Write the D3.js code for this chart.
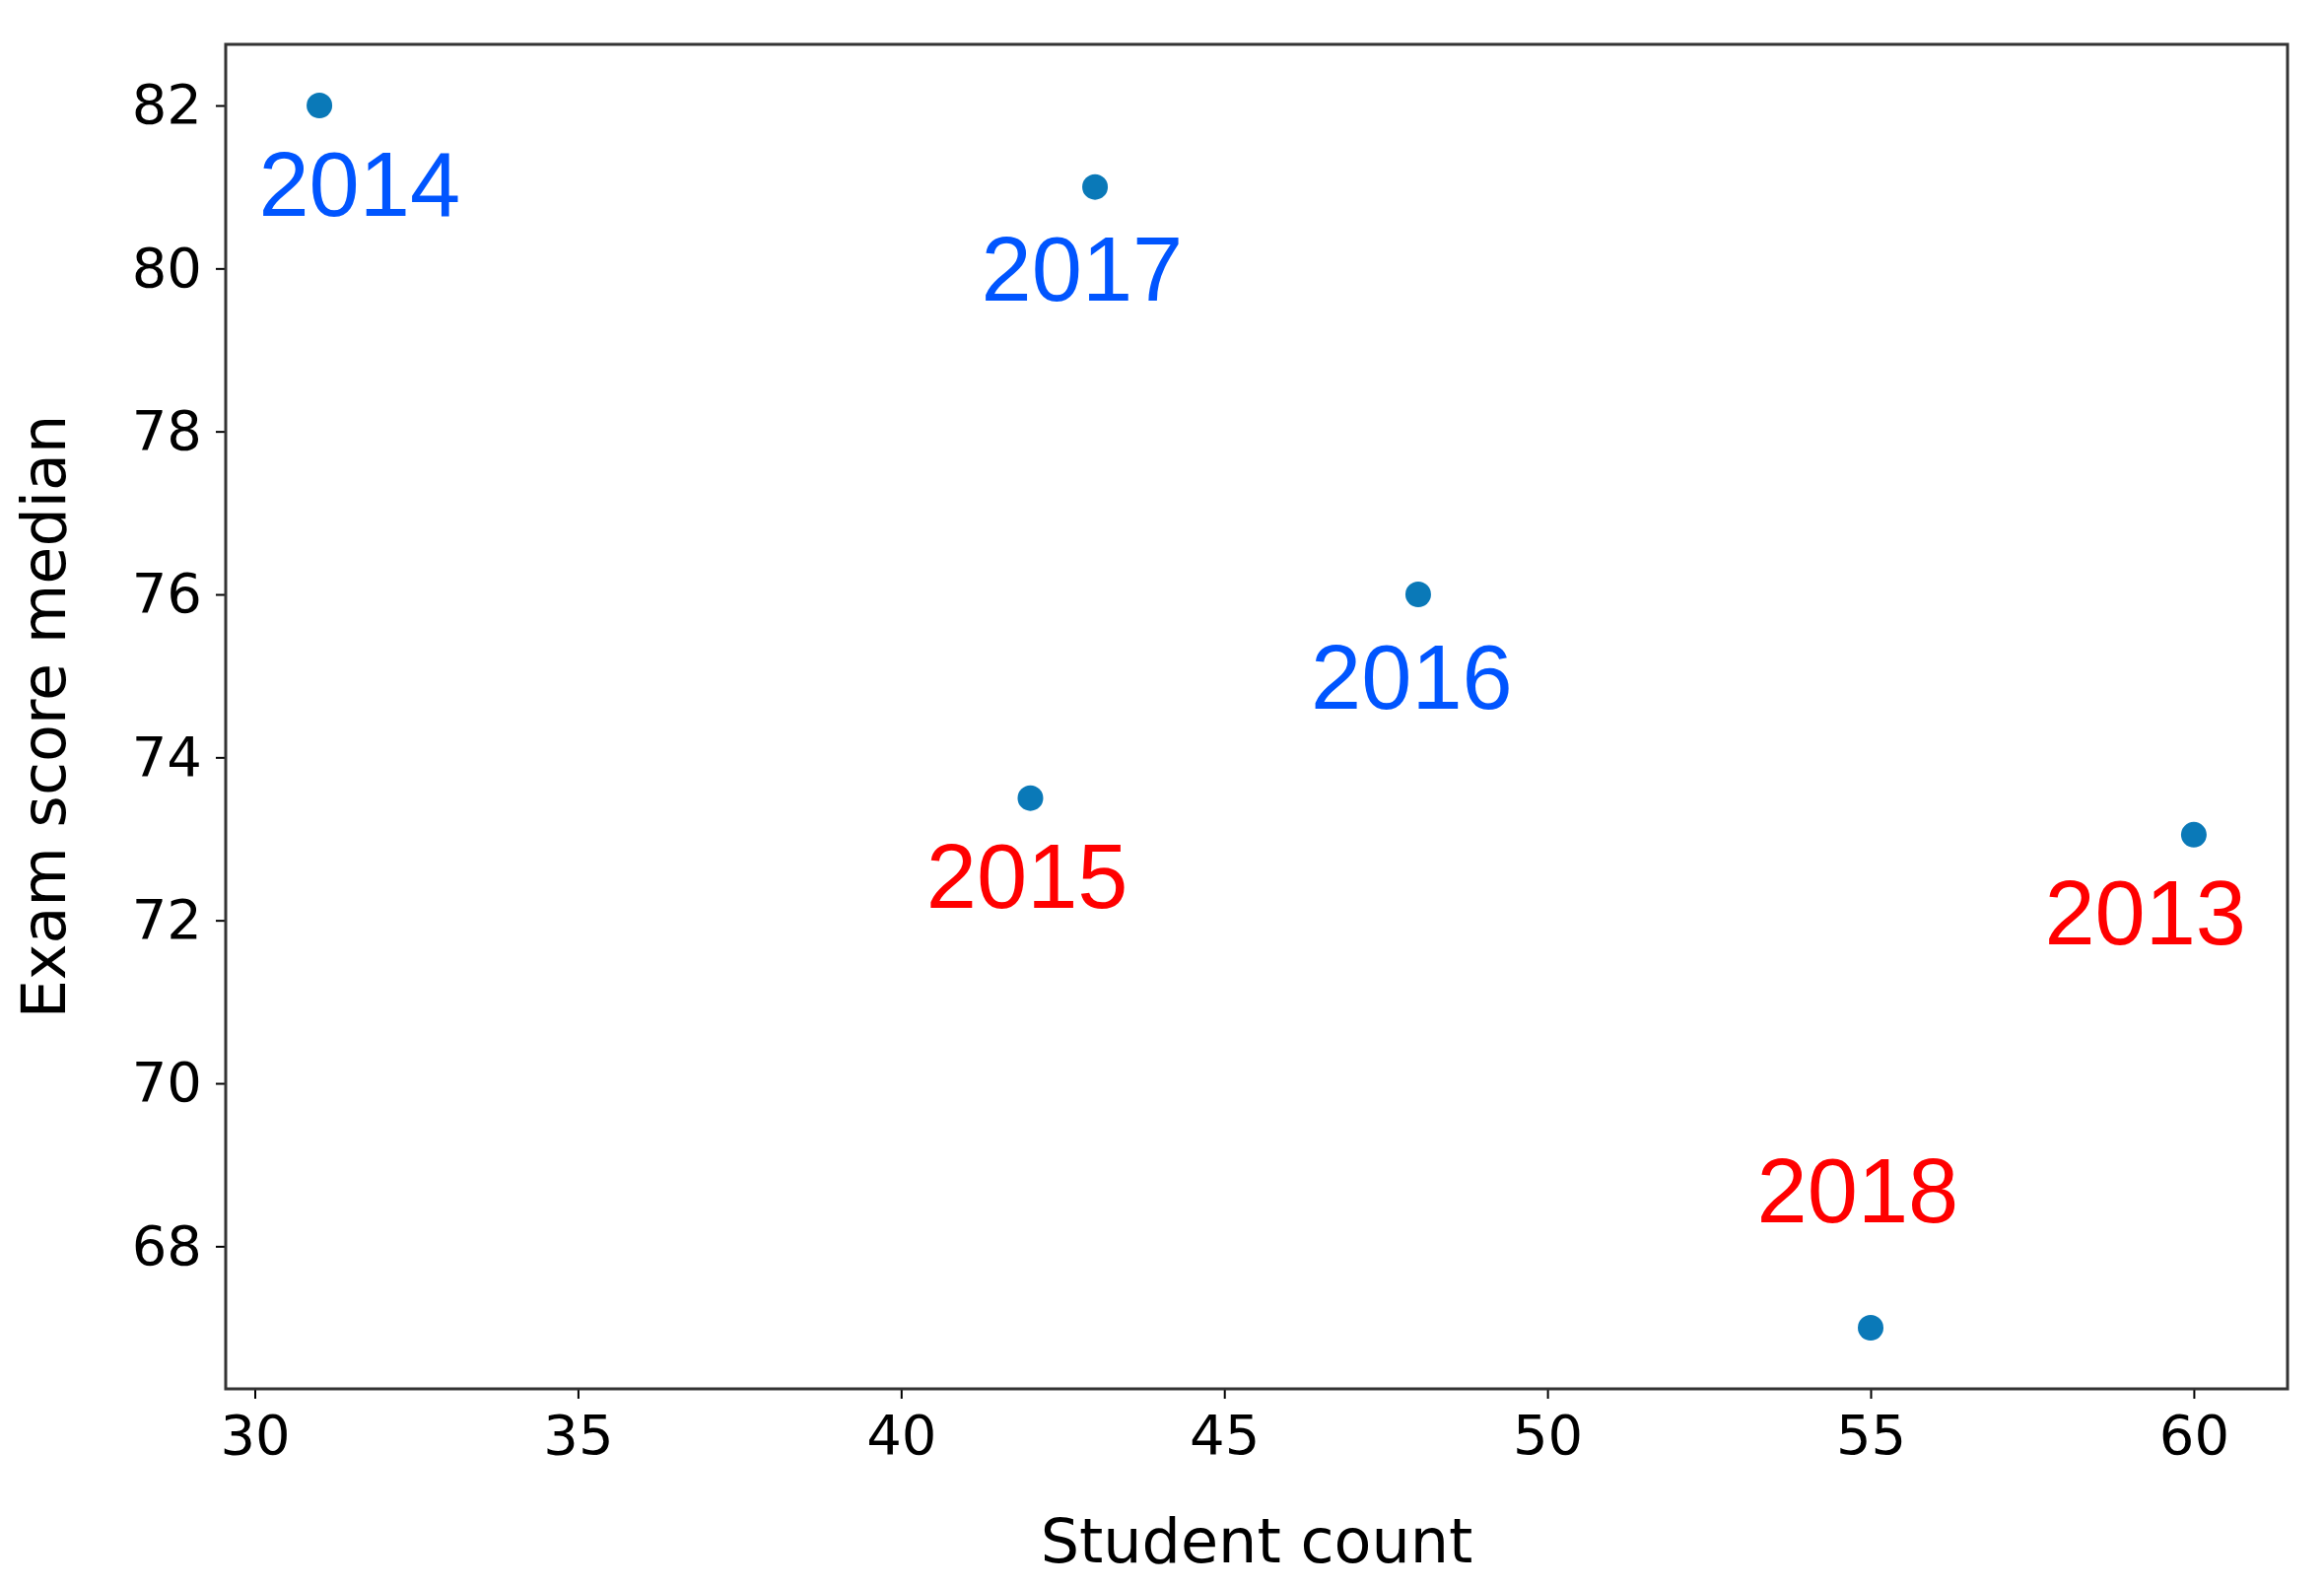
<!DOCTYPE html>
<html>
<head>
<meta charset="UTF-8">
<script src="https://cdn.jsdelivr.net/npm/d3@7"></script>
<style>
  body { margin: 0; background: #fff; }
  text { font-family: "DejaVu Sans", sans-serif; }
</style>
</head>
<body>
<div id="grafica"></div>
<script>
// data
years = ['2013', '2014', '2015', '2016', '2017', '2018']
students = [60, 31, 42, 48, 43, 55]
scores = [73.05, 82, 73.5, 76, 81, 67]
labelColors = ['#ff0000', '#0055ff', '#ff0000', '#0055ff', '#0055ff', '#ff0000']
// label anchor (text center, baseline) in data units
labelX = [59.25, 31.62, 41.95, 47.9, 42.8, 54.8]
labelY = [71.7, 80.65, 72.15, 74.6, 79.6, 68.3]
xTicks = [30, 35, 40, 45, 50, 55, 60]
yTicks = [68, 70, 72, 74, 76, 78, 80, 82]

W = 2358, H = 1610
m = { left: 229, right: 37, top: 45, bottom: 201 }

svg = d3.select('#grafica').append('svg')
  .attr('width', W).attr('height', H)

x = d3.scaleLinear().domain([29.55, 61.45]).range([m.left, W - m.right])
y = d3.scaleLinear().domain([66.25, 82.75]).range([H - m.bottom, m.top])

xAxis = svg.append('g')
  .attr('transform', 'translate(0,' + (H - m.bottom) + ')')
  .call(d3.axisBottom(x).tickValues(xTicks).tickSize(10).tickPadding(16))
yAxis = svg.append('g')
  .attr('transform', 'translate(' + m.left + ',0)')
  .call(d3.axisLeft(y).tickValues(yTicks).tickSize(10).tickPadding(14))

svg.selectAll('.tick text').attr('font-size', 56).attr('fill', '#000')
  .style('font-family', '"DejaVu Sans", sans-serif')
svg.selectAll('.domain').remove()
svg.selectAll('.tick line').attr('stroke', '#000').attr('stroke-width', 2)

// frame
svg.append('rect')
  .attr('x', m.left).attr('y', m.top)
  .attr('width', W - m.left - m.right).attr('height', H - m.top - m.bottom)
  .attr('fill', 'none').attr('stroke', '#333').attr('stroke-width', 3)

svg.selectAll('circle').data(years).enter().append('circle')
  .attr('cx', (d, i) => x(students[i]))
  .attr('cy', (d, i) => y(scores[i]))
  .attr('r', 13)
  .attr('fill', '#0a79b8')

svg.selectAll('.lbl').data(years).enter().append('text')
  .attr('class', 'lbl')
  .attr('x', (d, i) => x(labelX[i]))
  .attr('y', (d, i) => y(labelY[i]))
  .attr('text-anchor', 'middle')
  .attr('font-size', 92)
  .style('font-family', '"Liberation Sans", Arial, sans-serif')
  .attr('fill', (d, i) => labelColors[i])
  .text(d => d)

svg.append('text')
  .attr('x', (m.left + W - m.right) / 2).attr('y', 1585)
  .attr('text-anchor', 'middle').attr('font-size', 62)
  .text('Student count')

svg.append('text')
  .attr('transform', 'translate(66,' + ((m.top + H - m.bottom) / 2) + ') rotate(-90)')
  .attr('text-anchor', 'middle').attr('font-size', 62)
  .text('Exam score median')
</script>
</body>
</html>
